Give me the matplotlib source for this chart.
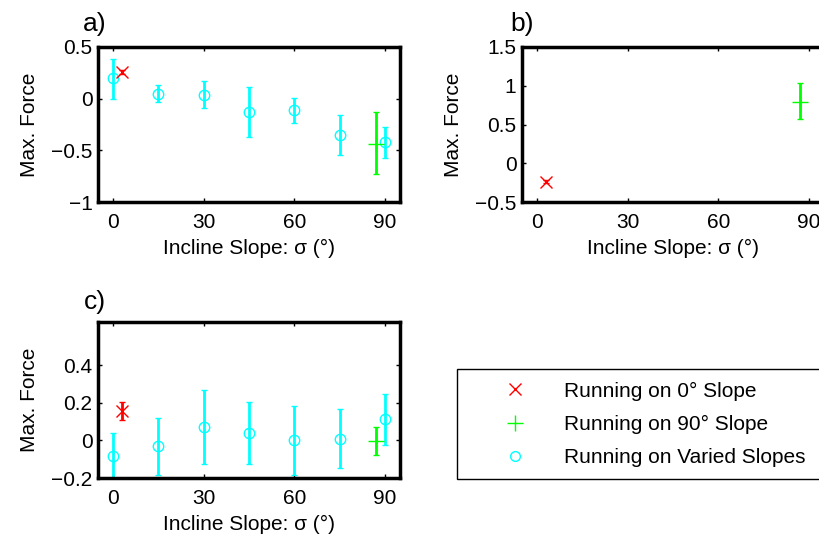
import numpy as np
import matplotlib
matplotlib.use("Agg")
import matplotlib.pyplot as plt
from matplotlib.lines import Line2D
from matplotlib.ticker import FuncFormatter

plt.rcParams['font.family'] = ['Liberation Sans', 'DejaVu Sans']

# slopes for the varied-slope runs
angles = [0, 15, 30, 45, 60, 75, 90]
# 0 deg and 90 deg reference runs are drawn slightly off the tick
x_flat = [3]
x_wall = [87]

# panel a
a_varied = [0.20, 0.045, 0.035, -0.13, -0.11, -0.35, -0.42]
a_varied_top = [0.38, 0.13, 0.17, 0.11, 0.01, -0.155, -0.27]
a_varied_bot = [0.0, -0.035, -0.09, -0.375, -0.24, -0.545, -0.575]
a_flat, a_flat_top, a_flat_bot = [0.26], [0.28], [0.24]
a_wall, a_wall_top, a_wall_bot = [-0.44], [-0.13], [-0.73]

# panel b
b_flat, b_flat_top, b_flat_bot = [-0.24], [-0.22], [-0.26]
b_wall, b_wall_top, b_wall_bot = [0.79], [1.03], [0.57]

# panel c
c_varied = [-0.085, -0.03, 0.07, 0.04, 0.0, 0.008, 0.113]
c_varied_top = [0.04, 0.12, 0.27, 0.205, 0.185, 0.167, 0.246]
c_varied_bot = [-0.2, -0.185, -0.125, -0.125, -0.185, -0.147, -0.023]
c_flat, c_flat_top, c_flat_bot = [0.155], [0.204], [0.11]
c_wall, c_wall_top, c_wall_bot = [-0.005], [0.073], [-0.076]

legend_labels = ['Running on 0° Slope', 'Running on 90° Slope', 'Running on Varied Slopes']

CYAN = '#00ffff'
RED = '#ff0000'
GREEN = '#00ff00'
FS = 15


def err(y, top, bot):
	y = np.array(y)
	return [y - np.array(bot), np.array(top) - y]


def plot_set(ax, x, y, top, bot, color, marker, ms):
	ax.errorbar(x, y, yerr=err(y, top, bot), fmt=marker, color=color, mfc='none',
		mec=color, ms=ms, mew=1.0, elinewidth=2, capsize=2.5, capthick=2, clip_on=True)


def style(ax, ylim, yticks):
	ax.set_xlim(-5, 95)
	ax.set_ylim(*ylim)
	ax.set_xticks([0, 30, 60, 90])
	ax.set_yticks(yticks)
	ax.yaxis.set_major_formatter(FuncFormatter(lambda v, p: f'{v:g}'.replace('-', '\u2212')))
	ax.tick_params(direction='in', top=True, right=True, length=3, width=1,
		labelsize=FS)
	ax.tick_params(axis='x', pad=8)
	ax.tick_params(axis='y', pad=4)
	for s in ax.spines.values():
		s.set_linewidth(2.5)
	ax.set_xlabel('Incline Slope: σ (°)', fontsize=FS, labelpad=5)
	ax.set_ylabel('Max. Force', fontsize=FS, labelpad=9)


fig = plt.figure(figsize=(8.2, 5.39), dpi=100)
W, H = 820, 539

ax_a = fig.add_axes([98 / W, 1 - 202 / H, 302 / W, 155 / H])
ax_b = fig.add_axes([522 / W, 1 - 202 / H, 302 / W, 155 / H])
ax_c = fig.add_axes([98 / W, 1 - 478 / H, 302 / W, 156 / H])

# a)
plot_set(ax_a, angles, a_varied, a_varied_top, a_varied_bot, CYAN, 'o', 7.5)
plot_set(ax_a, x_wall, a_wall, a_wall_top, a_wall_bot, GREEN, '+', 11)
plot_set(ax_a, x_flat, a_flat, a_flat_top, a_flat_bot, RED, 'x', 8)
style(ax_a, (-1, 0.5), [-1, -0.5, 0, 0.5])

# b)
plot_set(ax_b, x_wall, b_wall, b_wall_top, b_wall_bot, GREEN, '+', 11)
plot_set(ax_b, x_flat, b_flat, b_flat_top, b_flat_bot, RED, 'x', 8)
style(ax_b, (-0.5, 1.5), [-0.5, 0, 0.5, 1, 1.5])

# c)
plot_set(ax_c, angles, c_varied, c_varied_top, c_varied_bot, CYAN, 'o', 7.5)
plot_set(ax_c, x_wall, c_wall, c_wall_top, c_wall_bot, GREEN, '+', 11)
plot_set(ax_c, x_flat, c_flat, c_flat_top, c_flat_bot, RED, 'x', 8)
style(ax_c, (-0.2, 0.63), [-0.2, 0, 0.2, 0.4])

fig.text(95 / W, 1 - 24 / H, 'a)', fontsize=19, ha='center', va='center')
fig.text(522 / W, 1 - 24 / H, 'b)', fontsize=19, ha='center', va='center')
fig.text(95 / W, 1 - 302 / H, 'c)', fontsize=19, ha='center', va='center')

handles = [
	Line2D([], [], ls='none', marker='x', color=RED, ms=9, mew=1),
	Line2D([], [], ls='none', marker='+', color=GREEN, ms=12, mew=1),
	Line2D([], [], ls='none', marker='o', color=CYAN, mfc='none', ms=7, mew=1),
]
leg = fig.legend(handles, legend_labels, loc='upper left',
	bbox_to_anchor=(457 / W, 1 - 478 / H, 370 / W, 109 / H), mode='expand',
	borderaxespad=0, fontsize=FS, handlelength=4.4, handletextpad=0.15,
	borderpad=0.6, labelspacing=0.68, fancybox=False, framealpha=1,
	edgecolor='black')
leg.get_frame().set_linewidth(1)

fig.savefig('out.png', dpi=100)
